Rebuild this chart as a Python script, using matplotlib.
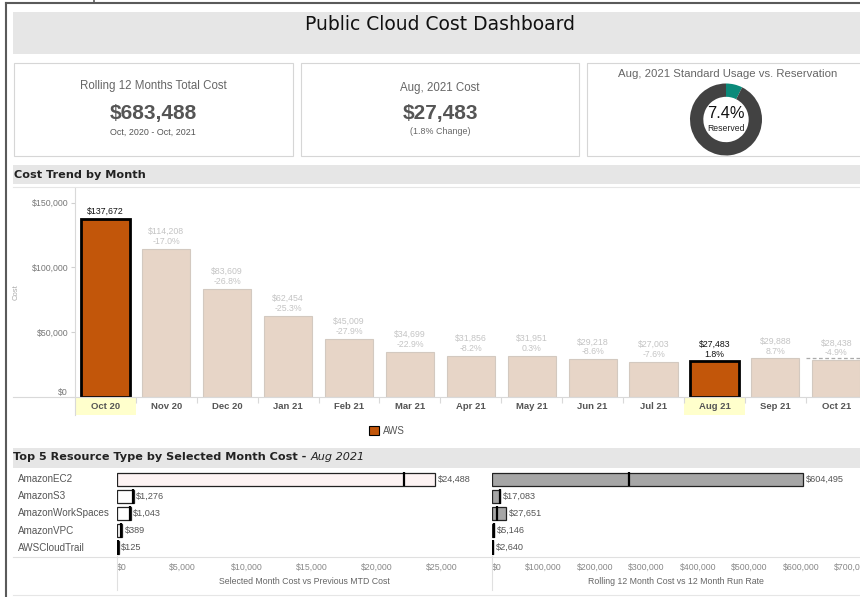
import numpy as np
import matplotlib
matplotlib.use('Agg')
import matplotlib.pyplot as plt
from matplotlib.patches import Rectangle, Patch
from matplotlib.transforms import blended_transform_factory as blend

plt.rcParams['font.family'] = ['Liberation Sans', 'DejaVu Sans']

# KPI cards
total_12m = 683488
aug_cost = 27483
aug_change = 1.8
reserved_pct = 7.4

# cost trend by month
months = ['Oct 20', 'Nov 20', 'Dec 20', 'Jan 21', 'Feb 21', 'Mar 21', 'Apr 21',
          'May 21', 'Jun 21', 'Jul 21', 'Aug 21', 'Sep 21', 'Oct 21']
cost = [137672, 114208, 83609, 62454, 45009, 34699, 31856,
        31951, 29218, 27003, 27483, 29888, 28438]
pct_change = [None, -17.0, -26.8, -25.3, -27.9, -22.9, -8.2,
              0.3, -8.6, -7.6, 1.8, 8.7, -4.9]
highlighted = ['Oct 20', 'Aug 21']
oct21_ref = 30300

# top 5 resource types
resources = ['AmazonEC2', 'AmazonS3', 'AmazonWorkSpaces', 'AmazonVPC', 'AWSCloudTrail']
month_cost = [24488, 1276, 1043, 389, 125]
prev_mtd = [22100, 1250, 1000, 330, 110]
rolling12 = [604495, 17083, 27651, 5146, 2640]
run_rate = [266000, 16000, 9700, 4500, 2000]

ORANGE = '#c2560a'
FADED = '#e7d5c7'
BAND = '#e6e6e6'
HEAD = 'DejaVu Sans'

W, H = 860, 597
fig = plt.figure(figsize=(W / 100, H / 100), dpi=100)


def rect(x0, y0, x1, y1):
    return [x0 / W, 1 - y1 / H, (x1 - x0) / W, (y1 - y0) / H]


bg = fig.add_axes([0, 0, 1, 1])
bg.set_xlim(0, W); bg.set_ylim(H, 0); bg.axis('off')


def box(x0, y0, x1, y1, fc='none', ec='none', lw=0.8):
    bg.add_patch(Rectangle((x0, y0), x1 - x0, y1 - y0, facecolor=fc, edgecolor=ec, lw=lw))


# frame, bands, cards
bg.plot([6, 6], [3, 597], color='#5a5a5a', lw=1.5)
bg.plot([6, 860], [3, 3], color='#5a5a5a', lw=1.5)
bg.plot([94, 94], [0, 3], color='#5a5a5a', lw=1.2)
box(13, 12, 861, 54, fc=BAND)
box(14, 63, 293, 156, ec='#d6d6d6')
box(301, 63, 579, 156, ec='#d6d6d6')
box(587, 63, 875, 156, ec='#d6d6d6')
box(13, 165, 861, 184, fc=BAND)
bg.plot([13, 860], [187, 187], color=BAND, lw=0.8)
box(13, 448, 861, 468, fc=BAND)
bg.plot([13, 860], [556.5, 556.5], color='#e0e0e0', lw=0.8)
bg.plot([13, 860], [595, 595], color='#e6e6e6', lw=0.8)

bg.text(440, 25, 'Public Cloud Cost Dashboard', family=HEAD, fontsize=13.5,
        ha='center', va='center', color='#111')

# KPI texts
bg.text(153, 86, 'Rolling 12 Months Total Cost', fontsize=8.3, color='#666', ha='center', va='center')
bg.text(153, 114, f'${total_12m:,}', fontsize=15, weight='bold', color='#555', ha='center', va='center')
bg.text(153, 132, 'Oct, 2020 - Oct, 2021', fontsize=6.4, color='#555', ha='center', va='center')
bg.text(440, 88, 'Aug, 2021 Cost', fontsize=8.3, color='#666', ha='center', va='center')
bg.text(440, 114, f'${aug_cost:,}', fontsize=15, weight='bold', color='#555', ha='center', va='center')
bg.text(440, 131, f'({aug_change}% Change)', fontsize=6.4, color='#666', ha='center', va='center')
bg.text(728, 74, 'Aug, 2021 Standard Usage vs. Reservation', fontsize=8.2, color='#666',
        ha='center', va='center')

axd = fig.add_axes(rect(690, 83.5, 762, 155.5))
axd.pie([reserved_pct, 100 - reserved_pct], colors=['#0b8a7a', '#424242'], startangle=90,
        counterclock=False, wedgeprops=dict(width=0.37, edgecolor='none'))
axd.set_xlim(-1, 1); axd.set_ylim(-1, 1)
bg.text(726, 114, f'{reserved_pct}%', fontsize=11.8, color='#111', ha='center', va='center')
bg.text(726, 128.5, 'Reserved', fontsize=6.2, color='#222', ha='center', va='center')

# section headers
bg.text(14, 175, 'Cost Trend by Month', family=HEAD, fontsize=8.1, weight='bold',
        color='#222', ha='left', va='center')
t = bg.text(13, 457.5, 'Top 5 Resource Type by Selected Month Cost - ', family=HEAD,
            fontsize=8.1, weight='bold', color='#222', ha='left', va='center')
fig.canvas.draw()
bb = t.get_window_extent(fig.canvas.get_renderer())
bg.text(bb.x1, 457.5, 'Aug 2021', family=HEAD, fontsize=8.1, style='italic', color='#222',
        ha='left', va='center')

# ---- cost trend bar chart
ax = fig.add_axes(rect(75, 188, 860, 397))
ax.set_facecolor('none')
x = np.arange(len(months))
hl = [m in highlighted for m in months]
ax.bar(x, cost, width=0.79, color=[ORANGE if h else FADED for h in hl],
       edgecolor=['black' if h else '#d3c9c0' for h in hl],
       linewidth=[2 if h else 0.8 for h in hl], zorder=2)
for i, (c, p, h) in enumerate(zip(cost, pct_change, hl)):
    txt = f'${c:,}' if p is None else f'${c:,}\n{p:.1f}%'
    ax.annotate(txt, (i, c), xytext=(0, 2), textcoords='offset points', ha='center',
                va='bottom', fontsize=6.3, linespacing=1.15,
                color='#111' if h else '#c4c4c4')
ax.hlines(oct21_ref, 11.5, 12.5, colors='#aaaaaa', linestyles=(0, (3, 2)), lw=0.9, zorder=3)
ax.set_ylim(0, 161350)
ax.set_xlim(-0.5, 12.39)
ax.set_yticks([0, 50000, 100000, 150000], ['$0', '$50,000', '$100,000', '$150,000'])
ax.get_yticklabels()[0].set_va('bottom')
ax.tick_params(axis='y', length=3, color='#d0d0d0', labelsize=6.3, labelcolor='#777', pad=2)
ax.set_xticks(x, months)
for lab in ax.get_xticklabels():
    lab.set_fontweight('bold')
ax.tick_params(axis='x', length=0, pad=3.5, labelsize=6.8, labelcolor='#555')
ax.set_xticks(np.arange(0.5, 12, 1), minor=True)
ax.tick_params(axis='x', which='minor', length=4, color='#d9d9d9', width=0.8)
for s in ax.spines.values():
    s.set_visible(False)
ax.axhline(0, xmin=-(75 - 13) / 785, xmax=1, color='#d9d9d9', lw=0.8, clip_on=False)
ax.plot([0, 0], [-18 / 209, 1], transform=ax.transAxes, color='#d9d9d9', lw=0.8, clip_on=False)
tr = blend(ax.transData, ax.transAxes)
for i, h in enumerate(hl):
    if h:
        ax.add_patch(Rectangle((i - 0.5, -18 / 209), 1, 17 / 209, transform=tr, clip_on=False,
                               facecolor='#ffffcc', edgecolor='none', zorder=0))
ax.set_ylabel('Cost', fontsize=5.5, color='#aaa')
ax.yaxis.set_label_coords(-(75 - 20) / 785, 0.5)

fig.legend(handles=[Patch(facecolor=ORANGE, edgecolor='black', lw=0.8)], labels=['AWS'],
           loc='center', bbox_to_anchor=(387 / W, 1 - 431 / H), frameon=False, fontsize=7,
           handlelength=1.0, handleheight=1.0, handletextpad=0.4, labelcolor='#555')

# ---- top 5 panes
y = np.arange(len(resources))
panes = [
    (rect(117, 470.7, 491.7, 556.2), month_cost, prev_mtd, 28860, np.arange(0, 25001, 5000),
     ['#fdf3f3'] + ['white'] * 4, 'Selected Month Cost vs Previous MTD Cost'),
    (rect(491.7, 470.7, 860, 556.2), rolling12, run_rate, 715000, np.arange(0, 700001, 100000),
     ['#a6a6a6'] * 5, 'Rolling 12 Month Cost vs 12 Month Run Rate'),
]
for k, (r, vals, refs, xmax, ticks, fcs, xlab) in enumerate(panes):
    a = fig.add_axes(r)
    a.set_facecolor('none')
    a.barh(y, vals, height=0.78, color=fcs, edgecolor='#222', lw=0.9, zorder=2)
    a.vlines(refs, y - 0.42, y + 0.42, color='black', lw=1.6, zorder=3)
    for i, (v, rf) in enumerate(zip(vals, refs)):
        a.annotate(f'${v:,}', (max(v, rf), i), xytext=(2, 0), textcoords='offset points',
                   va='center', ha='left', fontsize=6.6, color='#555')
    a.set_ylim(4.5, -0.5)
    a.set_xlim(0, xmax)
    a.set_yticks([])
    a.set_xticks(ticks, [f'${t:,}' for t in ticks])
    a.get_xticklabels()[0].set_ha('left')
    a.tick_params(axis='x', length=0, pad=5, labelsize=6.3, labelcolor='#888')
    for s in a.spines.values():
        s.set_visible(False)
    a.plot([0, 0], [0, -(590 - 556.2) / 85.5], transform=a.transAxes, color='#e0e0e0',
           lw=0.8, clip_on=False)
    a.text(0.5, -(582 - 556.2) / 85.5, xlab, transform=a.transAxes, ha='center', va='center',
           fontsize=6.3, color='#666')
    if k == 0:
        for i, name in enumerate(resources):
            a.text((18 - 117) / 374.7, i, name, transform=blend(a.transAxes, a.transData),
                   ha='left', va='center', fontsize=7.1, color='#555')

fig.savefig('out.png', dpi=100)
